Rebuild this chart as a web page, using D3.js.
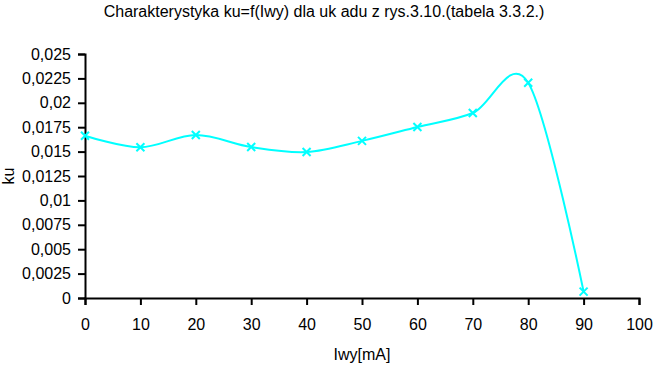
<!DOCTYPE html>
<html lang="pl">
<head>
<meta charset="UTF-8">
<title>Charakterystyka ku=f(Iwy)</title>
<style>
  body { margin: 0; background: #fff; }
  svg { display: block; }
</style>
</head>
<body>
<svg></svg>
<script src="https://cdn.jsdelivr.net/npm/d3@7/dist/d3.min.js"></script>
<script>
    // dane
    const iwy = [0, 10, 20, 30, 40, 50, 60, 70, 80, 90];
    const ku = [0.01663, 0.01544, 0.0167, 0.01547, 0.01496, 0.0161, 0.01752, 0.01895, 0.02206, 0.00065];
    const xTicks = [0, 10, 20, 30, 40, 50, 60, 70, 80, 90, 100];
    const yTicks = [0, 0.0025, 0.005, 0.0075, 0.01, 0.0125, 0.015, 0.0175, 0.02, 0.0225, 0.025];

    const width = 653, height = 365;
    const margin = {top: 54, right: 14, bottom: 67, left: 85};
    const fontSize = "16px";

    const svg = d3.select("svg")
        .attr("width", width)
        .attr("height", height)
        .style("font-family", "'Liberation Sans', Arial, sans-serif");

    const x = d3.scaleLinear().domain([0, 100]).range([margin.left, width - margin.right]);
    const y = d3.scaleLinear().domain([0, 0.025]).range([height - margin.bottom, margin.top]);

    const fmt = d => String(d).replace(".", ",");

    const xAxis = svg.append("g")
        .attr("transform", `translate(0,${y(0)})`)
        .call(d3.axisBottom(x).tickValues(xTicks).tickSize(7).tickPadding(14).tickFormat(d => d));
    const yAxis = svg.append("g")
        .attr("transform", `translate(${x(0)},0)`)
        .call(d3.axisLeft(y).tickValues(yTicks).tickSize(7).tickPadding(7).tickFormat(fmt));

    [xAxis, yAxis].forEach(g => {
        g.select(".domain").attr("stroke", "#000").attr("stroke-width", 2);
        g.selectAll(".tick line").attr("stroke", "#000").attr("stroke-width", 2);
        g.selectAll(".tick text").attr("fill", "#000").style("font-size", fontSize);
    });

    const pts = iwy.map((v, i) => [v, ku[i]]);

    svg.append("path")
        .datum(pts)
        .attr("fill", "none")
        .attr("stroke", "#00ffff")
        .attr("stroke-width", 2)
        .attr("d", d3.line().x(d => x(d[0])).y(d => y(d[1])).curve(d3.curveCardinal.tension(0)));

    const s = 4;
    svg.append("g")
        .attr("stroke", "#00ffff")
        .attr("stroke-width", 2)
        .selectAll("path")
        .data(pts)
        .join("path")
        .attr("d", d => {
            const cx = x(d[0]), cy = y(d[1]);
            return `M${cx - s},${cy - s}L${cx + s},${cy + s}M${cx - s},${cy + s}L${cx + s},${cy - s}`;
        });

    svg.append("text")
        .attr("x", 324)
        .attr("y", 17)
        .attr("text-anchor", "middle")
        .style("font-size", fontSize)
        .text("Charakterystyka ku=f(Iwy) dla uk adu z rys.3.10.(tabela 3.3.2.)");

    svg.append("text")
        .attr("transform", `translate(14,${(y(0) + y(0.025)) / 2}) rotate(-90)`)
        .attr("text-anchor", "middle")
        .style("font-size", fontSize)
        .text("ku");

    svg.append("text")
        .attr("x", x(50))
        .attr("y", 360)
        .attr("text-anchor", "middle")
        .style("font-size", fontSize)
        .text("Iwy[mA]");
</script>
</body>
</html>
